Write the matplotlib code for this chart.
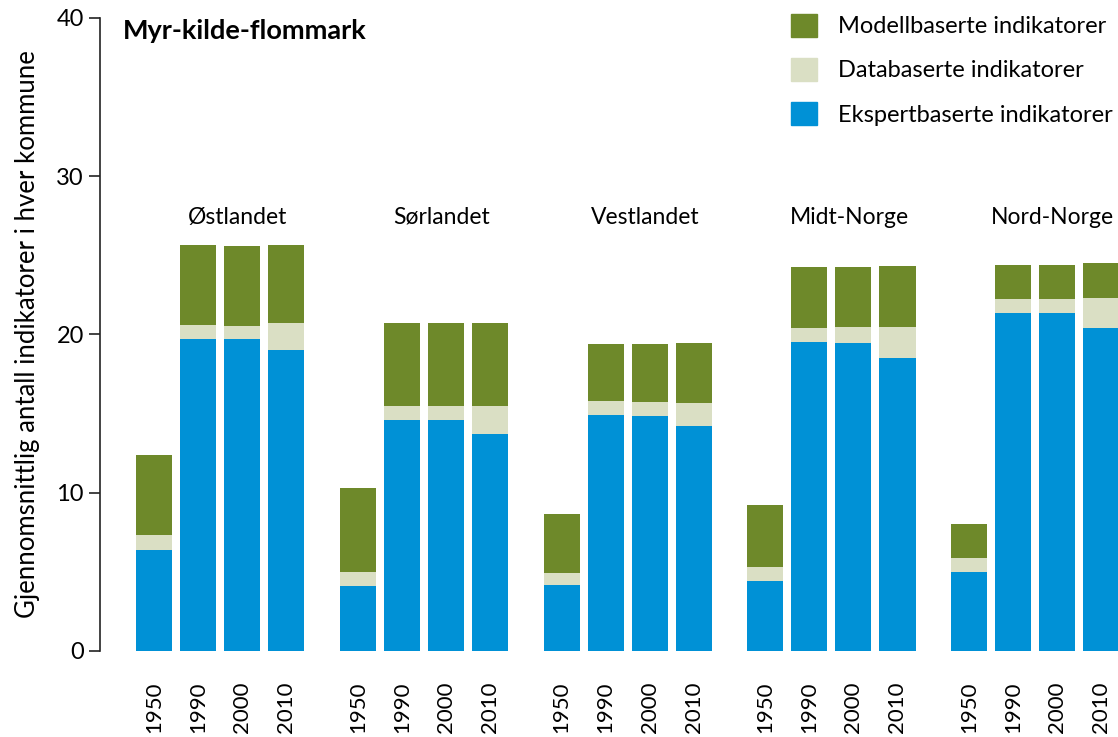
import numpy as np
import matplotlib
matplotlib.use("Agg")
import matplotlib.pyplot as plt
from matplotlib.patches import Patch

plt.rcParams['font.family'] = ['Lato', 'DejaVu Sans']

regions = ['Østlandet', 'Sørlandet', 'Vestlandet', 'Midt-Norge', 'Nord-Norge']
years = ['1950', '1990', '2000', '2010']

# ekspertbaserte (bottom), databaserte (middle), modellbaserte (top)
ekspert = [[6.4, 19.7, 19.7, 19.0],
           [4.1, 14.6, 14.6, 13.7],
           [4.2, 14.9, 14.85, 14.2],
           [4.4, 19.5, 19.45, 18.5],
           [5.0, 21.35, 21.35, 20.4]]
data = [[0.95, 0.9, 0.85, 1.7],
        [0.9, 0.9, 0.9, 1.75],
        [0.75, 0.9, 0.9, 1.5],
        [0.9, 0.9, 1.0, 1.95],
        [0.9, 0.9, 0.9, 1.9]]
modell = [[5.05, 5.05, 5.05, 4.95],
          [5.3, 5.25, 5.25, 5.25],
          [3.7, 3.6, 3.65, 3.75],
          [3.9, 3.85, 3.8, 3.85],
          [2.15, 2.15, 2.15, 2.2]]

c_modell = '#6e892a'
c_data = '#dadfc4'
c_ekspert = '#0091d6'

fig = plt.figure(figsize=(11.18, 7.37), dpi=100)
ax = fig.add_axes([0.0894, 0.1167, 0.9106, 0.8589])

group_step = 4.63
width = 0.82
xticks = []
xlabels = []
for g, reg in enumerate(regions):
    x = g * group_step + np.arange(4)
    e = np.array(ekspert[g])
    d = np.array(data[g])
    m = np.array(modell[g])
    ax.bar(x, e, width, color=c_ekspert)
    ax.bar(x, d, width, bottom=e, color=c_data)
    ax.bar(x, m, width, bottom=e + d, color=c_modell)
    # region name sits over the third bar
    ax.text(x[2] - 0.1, 27.4, reg, ha='center', va='center', fontsize=16.5)
    xticks += list(x)
    xlabels += years

ax.set_xlim(-1.227, 21.9)
ax.set_ylim(0, 40)
ax.set_yticks([0, 10, 20, 30, 40])
ax.tick_params(axis='y', labelsize=17, length=8, width=1.2, color='#222222')
ax.set_xticks(xticks)
ax.set_xticklabels(xlabels, rotation=90, fontsize=16)
ax.tick_params(axis='x', length=0, pad=22)
for s in ['top', 'right', 'bottom']:
    ax.spines[s].set_visible(False)
ax.spines['left'].set_linewidth(1.2)
ax.spines['left'].set_color('#222222')

ax.set_ylabel('Gjennomsnittlig antall indikatorer i hver kommune', fontsize=18.5, labelpad=12)
ax.text(-0.7, 39.2, 'Myr-kilde-flommark', fontsize=19.5, fontweight='bold', va='center')

handles = [Patch(color=c_modell, label='Modellbaserte indikatorer'),
           Patch(color=c_data, label='Databaserte indikatorer'),
           Patch(color=c_ekspert, label='Ekspertbaserte indikatorer')]
ax.legend(handles=handles, loc='upper right', bbox_to_anchor=(1.016, 1.04), frameon=False,
          fontsize=17, handlelength=1.1, handleheight=1.1, labelspacing=0.88, handletextpad=0.9)

fig.savefig('out.png', dpi=100)
